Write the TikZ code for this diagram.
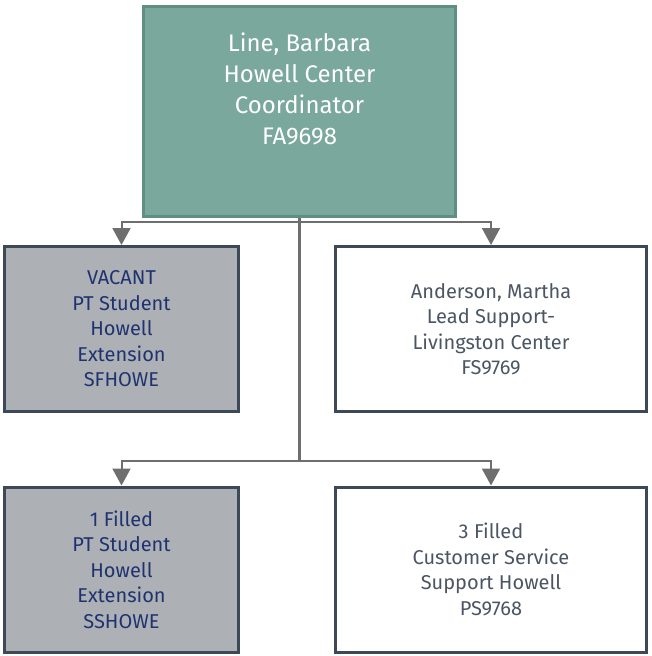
\documentclass[tikz,border=0pt]{standalone}
\usepackage{fontspec}
\setmainfont{Fira Sans}
\usetikzlibrary{arrows.meta}

\definecolor{headfill}{HTML}{7BA89C}
\definecolor{headline}{HTML}{5F8E82}
\definecolor{vacfill}{HTML}{ADB0B5}
\definecolor{boxline}{HTML}{3D4956}
\definecolor{linkgray}{HTML}{6E6E6E}
\definecolor{navytext}{HTML}{1F3370}
\definecolor{slatetext}{HTML}{4B5563}

\tikzset{
  headbox/.style={draw=headline, fill=headfill, line width=3pt, minimum width=312pt, minimum height=210pt,
    align=center, text=white, font=\fontsize{24}{31}\selectfont},
  grabox/.style={draw=boxline, fill=vacfill, line width=3pt, minimum width=234pt, minimum height=165pt,
    align=center, text=navytext, font=\fontsize{20}{25.5}\selectfont},
  whtbox/.style={draw=boxline, fill=white, line width=3pt, minimum width=311pt, minimum height=165pt,
    align=center, text=slatetext, font=\fontsize{20}{25.5}\selectfont},
  link/.style={draw=linkgray, line width=2pt},
  arr/.style={link, -{Triangle[length=17pt, width=18pt]}}
}

\begin{document}
\begin{tikzpicture}[x=1pt, y=-1pt]
                \useasboundingbox (0,0) rectangle (651,656);
                \node[headbox] (line) at (299.5,111.5) {Line, Barbara\\Howell Center\\Coordinator\\FA9698\\[15pt]\mbox{}};
                \node[grabox] (vac) at (121.5,329) {VACANT\\PT Student\\Howell\\Extension\\SFHOWE};
                \node[whtbox] (and) at (491,329) {Anderson, Martha\\Lead Support-\\Livingston Center\\FS9769};
                \node[grabox] (fil1) at (121.5,569.5) {1 Filled\\PT Student\\Howell\\Extension\\SSHOWE};
                \node[whtbox] (fil3) at (491,569.5) {3 Filled\\Customer Service\\Support Howell\\PS9768};
                \coordinate (j1) at (299.5,222);
                \coordinate (j2) at (299.5,461);
                \draw[link, line width=3pt] (line.south) -- (j2);
                \draw[arr] (j1) -| (vac.north);
                \draw[arr] (j1) -| (and.north);
                \draw[arr] (j2) -| (fil1.north);
                \draw[arr] (j2) -| (fil3.north);
            \end{tikzpicture}
\end{document}
